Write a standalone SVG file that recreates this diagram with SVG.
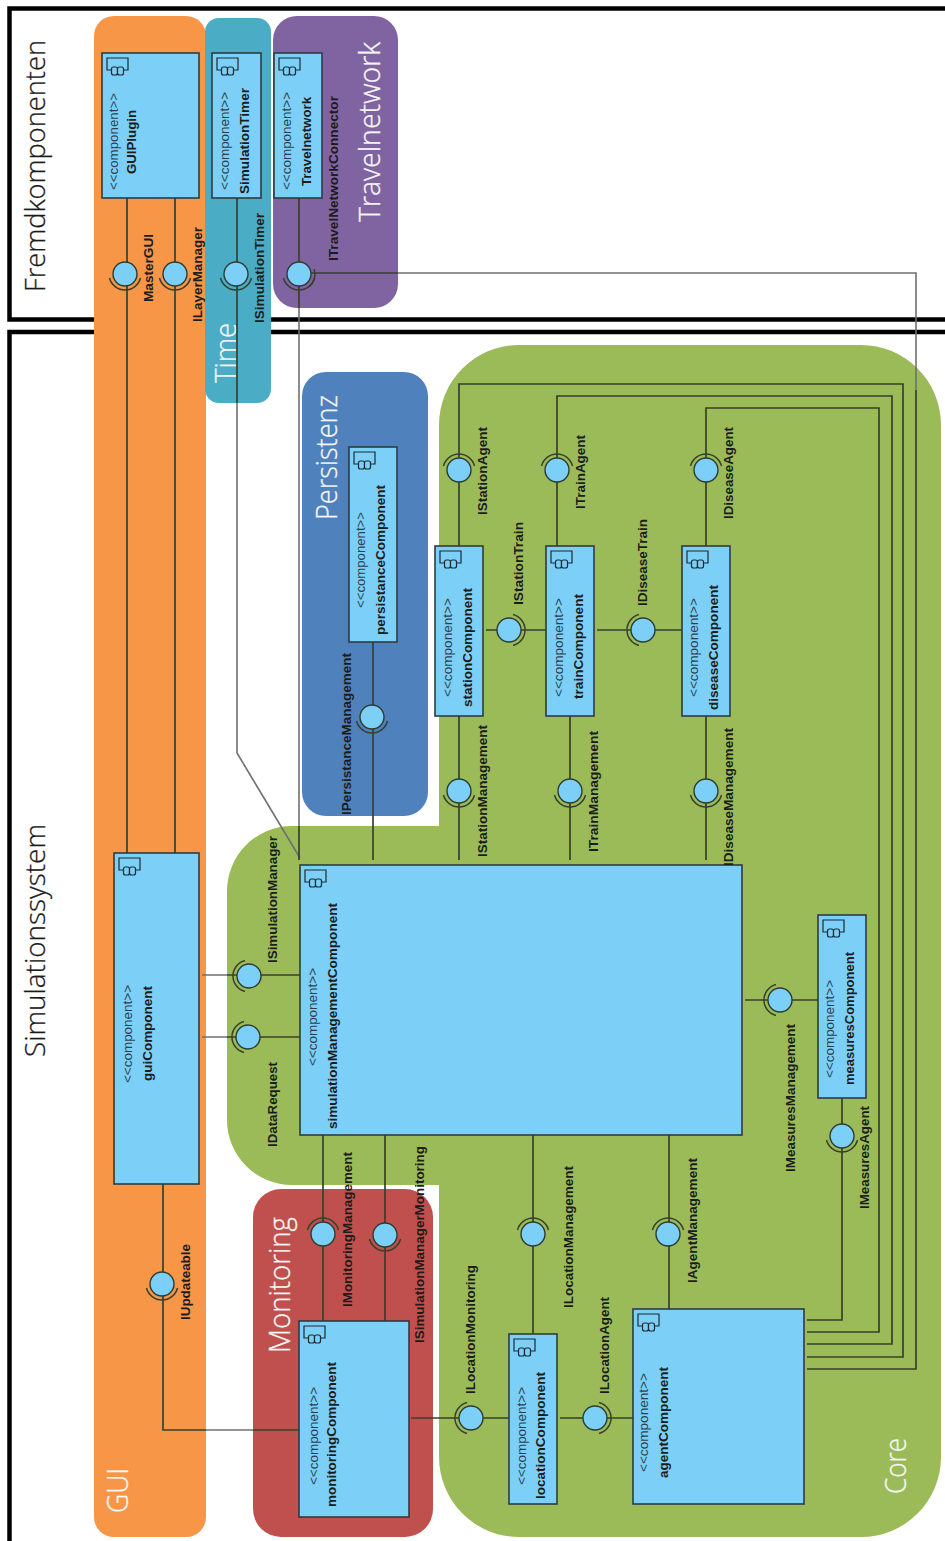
<svg xmlns="http://www.w3.org/2000/svg" width="945" height="1541" viewBox="0 0 945 1541">
<style>
text{font-family:"Liberation Sans",Arial,sans-serif;fill:#1c1c1c}
.st{font-size:12px;fill:#2b3f4f}
.nm{font-size:12.5px;font-weight:bold}
.if{font-size:12.5px;font-weight:bold}
.big{font-family:"Open Sans","Liberation Sans",sans-serif;font-weight:300;font-size:29px;fill:#f6f6f6;stroke:#f6f6f6;stroke-width:.3}
.sys{font-family:"Open Sans","Liberation Sans",sans-serif;font-weight:300;font-size:27px;fill:#1a1a1a;stroke:#1a1a1a;stroke-width:.25}
.frame{fill:none;stroke:#000;stroke-width:4.5}
.comp{fill:#7ccff6;stroke:#2f3b40;stroke-width:1.6}
.w{fill:none;stroke:#38402c;stroke-width:1.7}
.g{fill:none;stroke:#707070;stroke-width:1.6}
.ic{fill:#7ccff6;stroke:#1d2a30;stroke-width:1.2}
.ball{fill:#7ccff6;stroke:#2f3b30;stroke-width:1.4}
.sock{fill:none;stroke:#38402c;stroke-width:1.5}
</style>
<defs>
<g id="icon"><path class="ic" d="M5 5H26V17H5Z"/><rect class="ic" x="9.500" y="14" width="6" height="8" rx="2"/><rect class="ic" x="15.500" y="14" width="6" height="8" rx="2"/></g>
<g id="iface"><path class="sock" d="M-15.500 4A16 16 0 0 0 15.500 4"/><circle class="ball" r="12"/></g>
</defs>
<rect width="945" height="1541" fill="#fff"/>
<g id="frames">
<rect class="frame" x="9.500" y="8.500" width="960" height="311"/>
<rect class="frame" x="9.500" y="332" width="960" height="1240"/>
</g>
<g id="regions">
<rect id="region-gui" x="94" y="16" width="112" height="1521" rx="20" fill="#f79646"/>
<rect id="region-time" x="205" y="18" width="66" height="385" rx="14" fill="#4bacc6"/>
<rect id="region-travel" x="273" y="16" width="125" height="292" rx="24" fill="#8064a2"/>
<rect id="region-persistenz" x="302" y="372" width="126" height="444" rx="24" fill="#4f81bd"/>
<path id="region-core" fill="#9bbb59" d="M519 345H861A80 80 0 0 1 941 425V1457A80 80 0 0 1 861 1537H519A80 80 0 0 1 439 1457V1185H292A65 65 0 0 1 227 1120V891A65 65 0 0 1 292 826H439V425A80 80 0 0 1 519 345Z"/>
<rect id="region-monitoring" x="253" y="1189" width="180" height="348" rx="28" fill="#c0504d"/>
<text class="sys" transform="translate(45,292) rotate(-90)" textLength="252" lengthAdjust="spacingAndGlyphs">Fremdkomponenten</text>
<text class="sys" transform="translate(45,1057) rotate(-90)" textLength="233" lengthAdjust="spacingAndGlyphs">Simulationssystem</text>
<text class="big" transform="translate(380,222) rotate(-90)" textLength="180" lengthAdjust="spacingAndGlyphs">Travelnetwork</text>
<text class="big" transform="translate(236,383) rotate(-90)" textLength="60" lengthAdjust="spacingAndGlyphs">Time</text>
<text class="big" transform="translate(337,520) rotate(-90)" textLength="125" lengthAdjust="spacingAndGlyphs">Persistenz</text>
<text class="big" transform="translate(290,1353) rotate(-90)" textLength="136" lengthAdjust="spacingAndGlyphs">Monitoring</text>
<text class="big" transform="translate(128,1513) rotate(-90)" textLength="45" lengthAdjust="spacingAndGlyphs">GUI</text>
<text class="big" transform="translate(906,1494) rotate(-90)" textLength="56" lengthAdjust="spacingAndGlyphs">Core</text>
</g>
<g id="connectors">
<path class="w" d="M127 198V853M175 198V853"/>
<path class="w" d="M237 198V403"/><path class="g" d="M237 403V753L300 858"/>
<path class="w" d="M299 198V308"/><path class="g" d="M299 308V826"/><path class="w" d="M299 826V860"/>
<path class="w" d="M310 273H398"/><path class="g" d="M398 273H916V390"/><path class="w" d="M916 390V1369H807"/>
<path class="w" d="M373 642V860"/>
<path class="w" d="M459 546V384H903V1357H807"/>
<path class="w" d="M557 546V396H892V1344H807"/>
<path class="w" d="M706 546V408H879V1332H807"/>
<path class="w" d="M459 716V860M570 716V860M706 716V860"/>
<path class="w" d="M486 630H546M597 630H682"/>
<path class="w" d="M745 1000H818"/>
<path class="w" d="M842 1098V1320H807"/>
<path class="g" d="M202 975H227M202 1037H227"/><path class="w" d="M227 975H300M227 1037H300"/>
<path class="w" d="M323 1135V1321M385 1135V1321"/>
<path class="w" d="M163 1184V1430H206"/><path class="g" d="M206 1430H253"/><path class="w" d="M253 1430H299"/>
<path class="w" d="M533 1135V1334M669 1135V1309"/>
<path class="w" d="M411 1418H509M560 1418H633"/>
</g>
<g id="guiPlugin"><rect class="comp" x="102" y="53" width="97" height="145"/><use href="#icon" x="102" y="53"/>
<text class="st" transform="translate(118,190) rotate(-90)" textLength="97" lengthAdjust="spacingAndGlyphs">&lt;&lt;component&gt;&gt;</text>
<text class="nm" transform="translate(136,174) rotate(-90)" textLength="64" lengthAdjust="spacingAndGlyphs">GUIPlugin</text></g>
<g id="simulationTimer"><rect class="comp" x="212" y="53" width="49" height="145"/><use href="#icon" x="212" y="53"/>
<text class="st" transform="translate(229,190) rotate(-90)" textLength="98" lengthAdjust="spacingAndGlyphs">&lt;&lt;component&gt;&gt;</text>
<text class="nm" transform="translate(249,194) rotate(-90)" textLength="106" lengthAdjust="spacingAndGlyphs">SimulationTimer</text></g>
<g id="travelnetwork"><rect class="comp" x="274" y="53" width="48" height="145"/><use href="#icon" x="274" y="53"/>
<text class="st" transform="translate(291,190) rotate(-90)" textLength="98" lengthAdjust="spacingAndGlyphs">&lt;&lt;component&gt;&gt;</text>
<text class="nm" transform="translate(311,186) rotate(-90)" textLength="89" lengthAdjust="spacingAndGlyphs">Travelnetwork</text></g>
<g id="persistanceComponent"><rect class="comp" x="349" y="447" width="48" height="195"/><use href="#icon" x="349" y="447"/>
<text class="st" transform="translate(365,608) rotate(-90)" textLength="96" lengthAdjust="spacingAndGlyphs">&lt;&lt;component&gt;&gt;</text>
<text class="nm" transform="translate(385,635) rotate(-90)" textLength="150" lengthAdjust="spacingAndGlyphs">persistanceComponent</text></g>
<g id="stationComponent"><rect class="comp" x="435" y="546" width="48" height="170"/><use href="#icon" x="435" y="546"/>
<text class="st" transform="translate(452,697) rotate(-90)" textLength="99" lengthAdjust="spacingAndGlyphs">&lt;&lt;component&gt;&gt;</text>
<text class="nm" transform="translate(472,707) rotate(-90)" textLength="119" lengthAdjust="spacingAndGlyphs">stationComponent</text></g>
<g id="trainComponent"><rect class="comp" x="546" y="546" width="48" height="170"/><use href="#icon" x="546" y="546"/>
<text class="st" transform="translate(563,697) rotate(-90)" textLength="99" lengthAdjust="spacingAndGlyphs">&lt;&lt;component&gt;&gt;</text>
<text class="nm" transform="translate(583,699) rotate(-90)" textLength="105" lengthAdjust="spacingAndGlyphs">trainComponent</text></g>
<g id="diseaseComponent"><rect class="comp" x="682" y="546" width="48" height="170"/><use href="#icon" x="682" y="546"/>
<text class="st" transform="translate(698,697) rotate(-90)" textLength="99" lengthAdjust="spacingAndGlyphs">&lt;&lt;component&gt;&gt;</text>
<text class="nm" transform="translate(718,710) rotate(-90)" textLength="125" lengthAdjust="spacingAndGlyphs">diseaseComponent</text></g>
<g id="simulationManagementComponent"><rect class="comp" x="300" y="865" width="442" height="270"/><use href="#icon" x="300" y="865"/>
<text class="st" transform="translate(317,1066) rotate(-90)" textLength="98" lengthAdjust="spacingAndGlyphs">&lt;&lt;component&gt;&gt;</text>
<text class="nm" transform="translate(337,1129) rotate(-90)" textLength="226" lengthAdjust="spacingAndGlyphs">simulationManagementComponent</text></g>
<g id="guiComponent"><rect class="comp" x="114" y="853" width="85" height="331"/><use href="#icon" x="114" y="853"/>
<text class="st" transform="translate(132,1083) rotate(-90)" textLength="98" lengthAdjust="spacingAndGlyphs">&lt;&lt;component&gt;&gt;</text>
<text class="nm" transform="translate(152,1081) rotate(-90)" textLength="95" lengthAdjust="spacingAndGlyphs">guiComponent</text></g>
<g id="measuresComponent"><rect class="comp" x="818" y="915" width="48" height="183"/><use href="#icon" x="818" y="915"/>
<text class="st" transform="translate(834,1078) rotate(-90)" textLength="98" lengthAdjust="spacingAndGlyphs">&lt;&lt;component&gt;&gt;</text>
<text class="nm" transform="translate(854,1085) rotate(-90)" textLength="133" lengthAdjust="spacingAndGlyphs">measuresComponent</text></g>
<g id="monitoringComponent"><rect class="comp" x="299" y="1321" width="110" height="196"/><use href="#icon" x="299" y="1321"/>
<text class="st" transform="translate(318,1485) rotate(-90)" textLength="98" lengthAdjust="spacingAndGlyphs">&lt;&lt;component&gt;&gt;</text>
<text class="nm" transform="translate(336,1507) rotate(-90)" textLength="145" lengthAdjust="spacingAndGlyphs">monitoringComponent</text></g>
<g id="locationComponent"><rect class="comp" x="509" y="1334" width="48" height="170"/><use href="#icon" x="509" y="1334"/>
<text class="st" transform="translate(526,1485) rotate(-90)" textLength="98" lengthAdjust="spacingAndGlyphs">&lt;&lt;component&gt;&gt;</text>
<text class="nm" transform="translate(545,1499) rotate(-90)" textLength="127" lengthAdjust="spacingAndGlyphs">locationComponent</text></g>
<g id="agentComponent"><rect class="comp" x="633" y="1309" width="171" height="195"/><use href="#icon" x="633" y="1309"/>
<text class="st" transform="translate(648,1472) rotate(-90)" textLength="99" lengthAdjust="spacingAndGlyphs">&lt;&lt;component&gt;&gt;</text>
<text class="nm" transform="translate(668,1478) rotate(-90)" textLength="111" lengthAdjust="spacingAndGlyphs">agentComponent</text></g>

<g id="MasterGUI"><use href="#iface" transform="translate(125,274)"/><text class="if" transform="translate(153,302) rotate(-90)" textLength="68" lengthAdjust="spacingAndGlyphs">MasterGUI</text></g>
<g id="ILayerManager"><use href="#iface" transform="translate(175,274)"/><text class="if" transform="translate(202,322) rotate(-90)" textLength="95" lengthAdjust="spacingAndGlyphs">ILayerManager</text></g>
<g id="ISimulationTimer"><use href="#iface" transform="translate(236,274)"/><text class="if" transform="translate(264,323) rotate(-90)" textLength="110" lengthAdjust="spacingAndGlyphs">ISimulationTimer</text></g>
<g id="ITravelNetworkConnector"><use href="#iface" transform="translate(299,274)"/><path class="sock" d="M314 269A16 16 0 0 1 309 287"/><text class="if" transform="translate(338,261) rotate(-90)" textLength="165" lengthAdjust="spacingAndGlyphs">ITravelNetworkConnector</text></g>
<g id="IPersistanceManagement"><use href="#iface" transform="translate(372,717)"/><text class="if" transform="translate(351,815) rotate(-90)" textLength="162" lengthAdjust="spacingAndGlyphs">IPersistanceManagement</text></g>
<g id="IStationAgent"><use href="#iface" transform="translate(459,470) rotate(180)"/><text class="if" transform="translate(487,515) rotate(-90)" textLength="88" lengthAdjust="spacingAndGlyphs">IStationAgent</text></g>
<g id="ITrainAgent"><use href="#iface" transform="translate(557,470) rotate(180)"/><text class="if" transform="translate(585,509) rotate(-90)" textLength="74" lengthAdjust="spacingAndGlyphs">ITrainAgent</text></g>
<g id="IDiseaseAgent"><use href="#iface" transform="translate(706,470) rotate(180)"/><text class="if" transform="translate(733,519) rotate(-90)" textLength="92" lengthAdjust="spacingAndGlyphs">IDiseaseAgent</text></g>
<g id="IStationTrain"><use href="#iface" transform="translate(509,630) rotate(-90)"/><text class="if" transform="translate(523,605) rotate(-90)" textLength="83" lengthAdjust="spacingAndGlyphs">IStationTrain</text></g>
<g id="IDiseaseTrain"><use href="#iface" transform="translate(643,630) rotate(90)"/><text class="if" transform="translate(647,606) rotate(-90)" textLength="87" lengthAdjust="spacingAndGlyphs">IDiseaseTrain</text></g>
<g id="IStationManagement"><use href="#iface" transform="translate(459,791)"/><text class="if" transform="translate(487,857) rotate(-90)" textLength="132" lengthAdjust="spacingAndGlyphs">IStationManagement</text></g>
<g id="ITrainManagement"><use href="#iface" transform="translate(570,791)"/><text class="if" transform="translate(598,852) rotate(-90)" textLength="121" lengthAdjust="spacingAndGlyphs">ITrainManagement</text></g>
<g id="IDiseaseManagement"><use href="#iface" transform="translate(706,791)"/><text class="if" transform="translate(733,866) rotate(-90)" textLength="138" lengthAdjust="spacingAndGlyphs">IDiseaseManagement</text></g>
<g id="ISimulationManager"><use href="#iface" transform="translate(249,976) rotate(90)"/><text class="if" transform="translate(277,963) rotate(-90)" textLength="127" lengthAdjust="spacingAndGlyphs">ISimulationManager</text></g>
<g id="IDataRequest"><use href="#iface" transform="translate(248,1037) rotate(90)"/><text class="if" transform="translate(277,1147) rotate(-90)" textLength="85" lengthAdjust="spacingAndGlyphs">IDataRequest</text></g>
<g id="IMeasuresManagement"><use href="#iface" transform="translate(780,1000) rotate(90)"/><text class="if" transform="translate(795,1172) rotate(-90)" textLength="148" lengthAdjust="spacingAndGlyphs">IMeasuresManagement</text></g>
<g id="IMeasuresAgent"><use href="#iface" transform="translate(842,1136)"/><text class="if" transform="translate(869,1209) rotate(-90)" textLength="103" lengthAdjust="spacingAndGlyphs">IMeasuresAgent</text></g>
<g id="IMonitoringManagement"><use href="#iface" transform="translate(323,1234) rotate(180)"/><text class="if" transform="translate(352,1307) rotate(-90)" textLength="155" lengthAdjust="spacingAndGlyphs">IMonitoringManagement</text></g>
<g id="ISimulationManagerMonitoring"><use href="#iface" transform="translate(385,1235)"/><text class="if" transform="translate(424,1343) rotate(-90)" textLength="197" lengthAdjust="spacingAndGlyphs">ISimulationManagerMonitoring</text></g>
<g id="IUpdateable"><use href="#iface" transform="translate(162,1284)"/><text class="if" transform="translate(190,1320) rotate(-90)" textLength="76" lengthAdjust="spacingAndGlyphs">IUpdateable</text></g>
<g id="ILocationManagement"><use href="#iface" transform="translate(533,1234) rotate(180)"/><text class="if" transform="translate(573,1308) rotate(-90)" textLength="142" lengthAdjust="spacingAndGlyphs">ILocationManagement</text></g>
<g id="IAgentManagement"><use href="#iface" transform="translate(668,1234) rotate(180)"/><text class="if" transform="translate(697,1283) rotate(-90)" textLength="125" lengthAdjust="spacingAndGlyphs">IAgentManagement</text></g>
<g id="ILocationMonitoring"><use href="#iface" transform="translate(471,1418) rotate(90)"/><text class="if" transform="translate(475,1394) rotate(-90)" textLength="129" lengthAdjust="spacingAndGlyphs">ILocationMonitoring</text></g>
<g id="ILocationAgent"><use href="#iface" transform="translate(595,1418) rotate(-90)"/><text class="if" transform="translate(609,1394) rotate(-90)" textLength="97" lengthAdjust="spacingAndGlyphs">ILocationAgent</text></g>
</svg>
